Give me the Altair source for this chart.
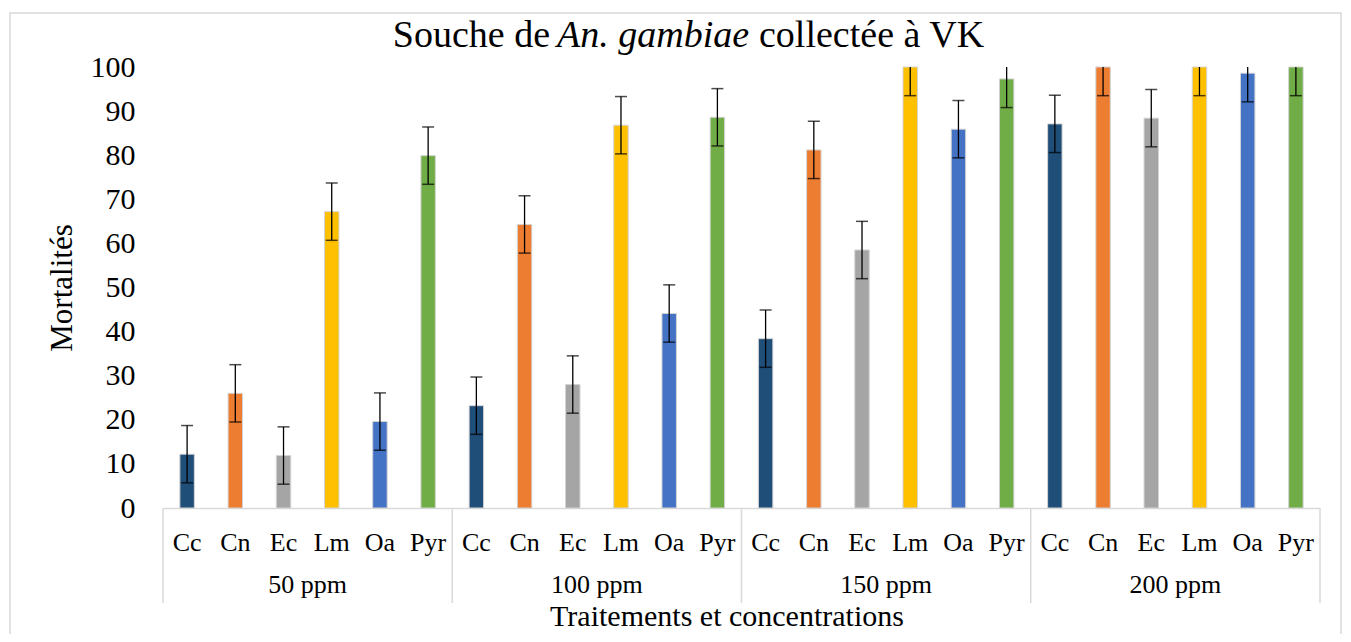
import altair as alt
import pandas as pd

concentrations = ["50 ppm", "100 ppm", "150 ppm", "200 ppm"]
treatments = ["Cc", "Cn", "Ec", "Lm", "Oa", "Pyr"]
colors = ["#1F4E79", "#ED7D31", "#A5A5A5", "#FFC000", "#4472C4", "#70AD47"]

mort_50 = [12.2, 26.0, 11.9, 67.2, 19.6, 79.9]
mort_100 = [23.2, 64.3, 28.0, 86.8, 44.1, 88.6]
mort_150 = [38.4, 81.2, 58.5, 100.0, 85.9, 97.3]
mort_200 = [87.1, 100.0, 88.4, 100.0, 98.6, 100.0]
err_50 = [6.5, 6.5, 6.5, 6.5, 6.5, 6.5]
err_100 = [6.5, 6.5, 6.5, 6.5, 6.5, 6.5]
err_150 = [6.5, 6.5, 6.5, 6.5, 6.5, 6.5]
err_200 = [6.5, 6.5, 6.5, 6.5, 6.5, 6.5]

values = [mort_50, mort_100, mort_150, mort_200]
errors = [err_50, err_100, err_150, err_200]

rows = []
for ci, c in enumerate(concentrations):
    for ti, t in enumerate(treatments):
        m = values[ci][ti]
        e = errors[ci][ti]
        rows.append({"key": f"{c}|{t}", "conc": c, "trt": t, "m": m,
                     "lo": m - e, "hi": m + e})
df = pd.DataFrame(rows)
order = list(df["key"])

FONT = "Liberation Serif"
W, H = 1157, 441

xscale = alt.Scale(domain=order, paddingInner=0.70, paddingOuter=0.35)
yscale = alt.Scale(domain=[0, 100], nice=False)

xaxis = alt.Axis(title=None, labelExpr="split(datum.label, '|')[1]",
                 labelAngle=0, ticks=False, domainColor="#d9d9d9",
                 domainWidth=1.5, labelFont=FONT, labelFontSize=26,
                 labelColor="black", labelPadding=21)
x_main = alt.X("key:N", sort=order, scale=xscale, axis=xaxis)
yaxis = alt.Axis(title=None, values=list(range(0, 101, 10)), grid=False,
                 domain=False, ticks=False, labelFont=FONT,
                 labelFontSize=30, labelColor="black", labelPadding=28)

base = alt.Chart(df)
bars = base.mark_bar(stroke="#d4d4d4", strokeWidth=1).encode(
    x=x_main,
    y=alt.Y("m:Q", scale=yscale, axis=yaxis),
    color=alt.Color("trt:N", scale=alt.Scale(domain=treatments, range=colors),
                    legend=None),
)
err_line = base.mark_rule(color="black", strokeWidth=1.3, clip=True).encode(
    x=x_main, y=alt.Y("lo:Q", scale=yscale, axis=yaxis), y2="hi:Q")
cap_lo = base.mark_tick(color="black", thickness=1.5, size=12,
                        orient="horizontal", clip=True).encode(
    x=x_main, y=alt.Y("lo:Q", scale=yscale, axis=yaxis))
cap_hi = base.mark_tick(color="black", thickness=1.5, size=12,
                        orient="horizontal", clip=True).encode(
    x=x_main, y=alt.Y("hi:Q", scale=yscale, axis=yaxis))

main = alt.layer(bars, err_line, cap_lo, cap_hi)

grp = pd.DataFrame({"pos": [0.5, 1.5, 2.5, 3.5], "conc": concentrations})
seps = pd.DataFrame({"pos": [0, 1, 2, 3, 4]})
qx = alt.Scale(domain=[0, 4], nice=False, zero=False)
grp_text = alt.Chart(grp).mark_text(font=FONT, fontSize=26, color="black",
                                    baseline="alphabetic").encode(
    x=alt.X("pos:Q", scale=qx, axis=None), y=alt.value(H + 85), text="conc:N")
sep_rule = alt.Chart(seps).mark_rule(color="#d9d9d9", strokeWidth=1.5).encode(
    x=alt.X("pos:Q", scale=qx, axis=None), y=alt.value(H), y2=alt.value(H + 95))
groups = alt.layer(sep_rule, grp_text)

one = pd.DataFrame({"a": [0]})
border = alt.Chart(one).mark_rect(fill="transparent", stroke="#d9d9d9",
                                  strokeWidth=1.5).encode(
    x=alt.value(-153), x2=alt.value(1178), y=alt.value(-54), y2=alt.value(640))
t1 = alt.Chart(one).mark_text(font=FONT, fontSize=38, color="black", align="right",
                              baseline="alphabetic", text="Souche de").encode(
    x=alt.value(387), y=alt.value(-20))
t2 = alt.Chart(one).mark_text(font=FONT, fontSize=38, color="black", align="left",
                              fontStyle="italic", baseline="alphabetic",
                              text="An. gambiae").encode(
    x=alt.value(394), y=alt.value(-20))
t3 = alt.Chart(one).mark_text(font=FONT, fontSize=38, color="black", align="left",
                              baseline="alphabetic", text="collectée à VK").encode(
    x=alt.value(596), y=alt.value(-20))
ytitle = alt.Chart(one).mark_text(font=FONT, fontSize=31, color="black", angle=270,
                                  align="center", baseline="middle",
                                  text="Mortalités").encode(
    x=alt.value(-100), y=alt.value(221))
xtitle = alt.Chart(one).mark_text(font=FONT, fontSize=30, color="black",
                                  align="center", baseline="alphabetic",
                                  text="Traitements et concentrations").encode(
    x=alt.value(564), y=alt.value(559))

chart = alt.layer(border, main, groups, t1, t2, t3, ytitle, xtitle).resolve_scale(
    x="independent"
).properties(
    width=W, height=H,
    autosize=alt.AutoSizeParams(type="none"),
    padding={"left": 155, "top": 59, "right": 23, "bottom": 126},
).configure_view(stroke=None)

chart.save("out.html", embed_options={"renderer": "svg", "actions": False})
